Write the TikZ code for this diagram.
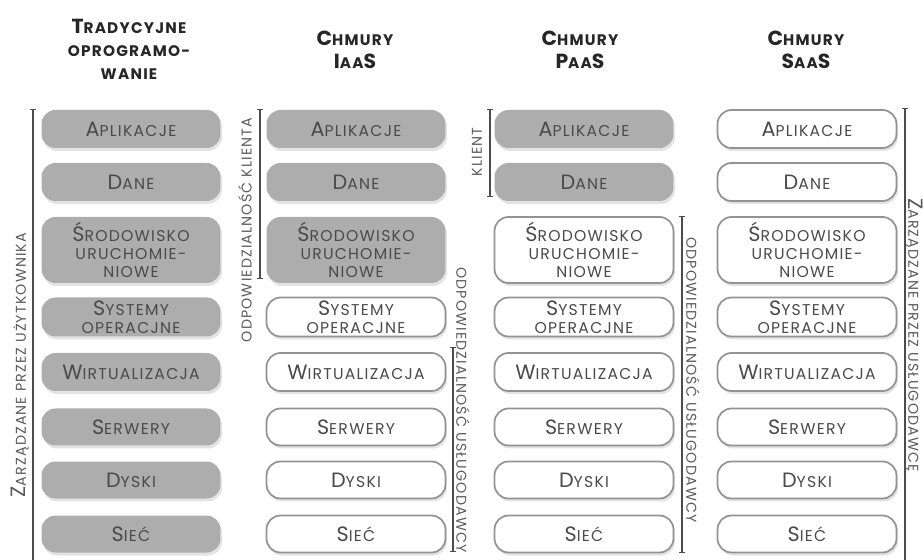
\documentclass[tikz,border=0pt]{standalone}
\usepackage{fontspec}
\setmainfont{Poppins}[LetterSpace=8]
\usetikzlibrary{arrows.meta}
\usetikzlibrary{shadows}
\definecolor{szary}{HTML}{ADADAD}
\definecolor{ramka}{HTML}{939393}
\definecolor{napis}{HTML}{4A4A4A}
\definecolor{opisowy}{HTML}{5A5A5A}
\newcommand\duza[1]{{\fontsize{11.8}{12}\selectfont #1}}
\newcommand\duzab[1]{{\fontsize{11.6}{12}\selectfont #1}}

\begin{document}
\begin{tikzpicture}[x=0.02cm, y=-0.02cm,
  pole/.style={rounded corners=0.28cm, minimum width=3.58cm, align=center, inner sep=1pt,
    text=napis, font=\fontsize{8.9}{10.2}\selectfont,
    drop shadow={opacity=0.22, shadow xshift=0.03cm, shadow yshift=-0.06cm}},
  szara/.style={pole, fill=szary},
  biala/.style={pole, fill=white, draw=ramka, line width=1pt},
  klamra/.style={draw=black!70, line width=0.6pt, {Bar[width=0.13cm]}-{Bar[width=0.13cm]}},
  opis/.style={text=opisowy, font=\fontsize{8.1}{9}\selectfont},
  naglowek/.style={align=center, text=black!85, font=\bfseries\fontsize{8.7}{13.1}\selectfont}]

\useasboundingbox (0,0) rectangle (923,560);
\clip (0,0) rectangle (923,560);

\node[naglowek] (h-trad) at (129,49) {\duzab{T}RADYCYJNE\\OPROGRAMO-\\WANIE};
\node[naglowek] (h-iaas) at (355,50) {\duzab{C}HMURY\\\duzab{I}AA\duzab{S}};
\node[naglowek] (h-paas) at (580,50) {\duzab{C}HMURY\\\duzab{P}AA\duzab{S}};
\node[naglowek] (h-saas) at (806,50) {\duzab{C}HMURY\\\duzab{S}AA\duzab{S}};

\foreach \kol/\xc/\szare in {trad/131/8, iaas/356/3, paas/584/2, saas/807/0} {
  \foreach \wiersz/\yc/\hc/\tekst [count=\i] in {
      apl/129/38/{\duza{A}PLIKACJE},
      dane/182/38/{\duza{D}ANE},
      srod/250/66/{\duza{Ś}RODOWISKO\\URUCHOMIE-\\NIOWE},
      sys/317/39/{\duza{S}YSTEMY\\OPERACJNE},
      wirt/372/38/{\duza{W}IRTUALIZACJA},
      serw/427/37/{\duza{S}ERWERY},
      dysk/480/37/{\duza{D}YSKI},
      siec/534/37/{\duza{S}IEĆ}} {
    \ifnum\i>\szare\relax \def\styl{biala}\else \def\styl{szara}\fi
    \node[\styl, minimum height=\hc*0.02cm] (\kol-\wiersz) at (\xc,\yc) {\tekst};
  }
}

\coordinate (uz-g) at (33,109);
\coordinate (uz-d) at (33,566);
\coordinate (ik-g) at (260,109);
\coordinate (ik-d) at (260,279);
\coordinate (iu-g) at (453,347);
\coordinate (iu-d) at (453,552);
\coordinate (pk-g) at (490,109);
\coordinate (pk-d) at (490,197);
\coordinate (pu-g) at (682,216);
\coordinate (pu-d) at (682,553);
\coordinate (su-g) at (905,108);
\coordinate (su-d) at (905,566);

\draw[klamra] (uz-g) -- (uz-d);
\draw[klamra] (ik-g) -- (ik-d);
\draw[klamra] (iu-g) -- (iu-d);
\draw[klamra] (pk-g) -- (pk-d);
\draw[klamra] (pu-g) -- (pu-d);
\draw[klamra] (su-g) -- (su-d);

\node[opis, rotate=90] (l-uz) at (20,365) {\duza{Z}ARZĄDZANE PRZEZ UŻYTKOWNIKA};
\node[opis, rotate=90] (l-ik) at (245,230) {ODPOWIEDZIALNOŚĆ KLIENTA};
\node[opis, rotate=-90] (l-iu) at (463,410) {ODPOWIEDZIALNOŚĆ USŁUGODAWCY};
\node[opis, rotate=90] (l-pk) at (477,152) {KLIENT};
\node[opis, rotate=-90] (l-pu) at (693,380) {ODPOWIEDZIALNOŚĆ USŁUGODAWCY};
\node[opis, rotate=-90, inner sep=1pt] (l-su) at (914,335) {\duza{Z}ARZĄDZANE PRZEZ USŁUGODAWCĘ};
\end{tikzpicture}
\end{document}
